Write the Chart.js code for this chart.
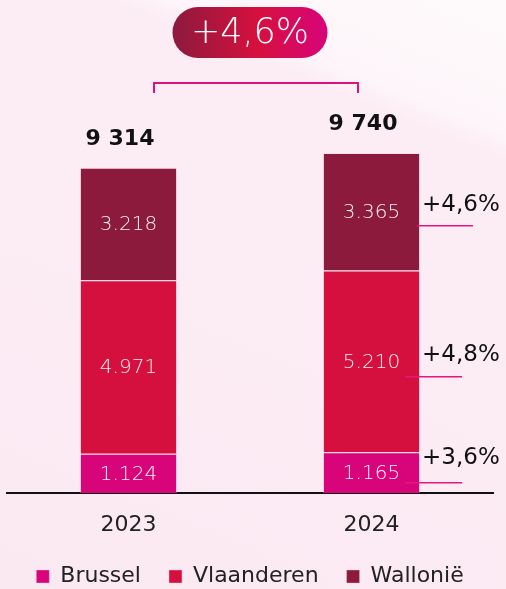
<!DOCTYPE html>
<html><head><meta charset="utf-8">
<style>
html,body{margin:0;padding:0;}
body{width:506px;height:589px;overflow:hidden;background:linear-gradient(22deg,#fbe9f2 0%,#fcecf4 50%,#fcedf5 80%,#fdf5f9 83%,#fefafc 100%);}
canvas{display:block;}
</style>
<script src="https://cdn.jsdelivr.net/npm/chart.js@4"></script>
</head><body>
<canvas id="c" width="506" height="589"></canvas>
<script>
// ---- data ----
const years = ['2023', '2024'];
const regions = ['Brussel', 'Vlaanderen', 'Wallonië'];
const brussel = [1124, 1165];
const vlaanderen = [4971, 5210];
const wallonie = [3218, 3365];
const totalLabels = ['9 314', '9 740'];
const regionChange = ['+3,6%', '+4,8%', '+4,6%'];
const totalChange = '+4,6%';

const colors = ['#d8047a', '#d6103e', '#8c1a3d'];
const FONT = '"DejaVu Sans", sans-serif';

function fmt(v){ return String(v).replace(/\B(?=(\d{3})+(?!\d))/g, '.'); }

const overlay = {
  id: 'overlay',
  afterDatasetsDraw(chart){
    const ctx = chart.ctx;
    const xs = chart.scales.x;
    ctx.save();
    // segment values
    chart.data.datasets.forEach((ds, di) => {
      const meta = chart.getDatasetMeta(di);
      meta.data.forEach((bar, i) => {
        const cy = (bar.y + bar.base) / 2;
        ctx.fillStyle = 'rgba(255,255,255,0.93)';
        ctx.font = '200 20px ' + FONT;
        ctx.textAlign = 'center';
        ctx.textBaseline = 'middle';
        ctx.fillText(fmt(ds.data[i]), bar.x, cy + 1);
      });
    });
    // totals
    const lastMeta = chart.getDatasetMeta(chart.data.datasets.length - 1);
    lastMeta.data.forEach((bar, i) => {
      ctx.fillStyle = '#111';
      ctx.font = 'bold 22px ' + FONT;
      ctx.textAlign = 'center';
      ctx.textBaseline = 'middle';
      ctx.fillText(totalLabels[i], bar.x - 8.5, bar.y - 29);
    });
    // change annotations next to the 2024 bar
    const lineOff = [10, 15.5, 14];
    const textOff = [-25, -22, -21];
    const lStart = [-15, -15, -3];
    const lEnd = [42, 42, 53];
    chart.data.datasets.forEach((ds, di) => {
      const bar = chart.getDatasetMeta(di).data[1];
      const right = bar.x + bar.width / 2;
      const mid = (bar.y + bar.base) / 2;
      const ly = mid + lineOff[di];
      ctx.strokeStyle = '#e8157e';
      ctx.lineWidth = 1.5;
      ctx.beginPath();
      ctx.moveTo(right + lStart[di], ly);
      ctx.lineTo(right + lEnd[di], ly);
      ctx.stroke();
      ctx.fillStyle = '#111';
      ctx.font = '23px ' + FONT;
      ctx.textAlign = 'left';
      ctx.textBaseline = 'middle';
      ctx.fillText(regionChange[di], right + 2, ly + textOff[di]);
    });
    // bracket
    const x0 = xs.getPixelForValue(0), x1 = xs.getPixelForValue(1);
    const bl = x0 + 25.5, br = x1 - 13.5, by = 83;
    ctx.strokeStyle = '#e0107a';
    ctx.lineWidth = 2;
    ctx.beginPath();
    ctx.moveTo(bl, by + 10); ctx.lineTo(bl, by); ctx.lineTo(br, by); ctx.lineTo(br, by + 10);
    ctx.stroke();
    // badge
    const cx = (x0 + x1) / 2;
    const bw = 155, bh = 51, bx = cx - bw / 2, byy = 7, r = bh / 2;
    const g = ctx.createLinearGradient(bx, 0, bx + bw, 0);
    g.addColorStop(0, '#8c1a3d');
    g.addColorStop(0.55, '#d6103e');
    g.addColorStop(1, '#d8047a');
    ctx.fillStyle = g;
    ctx.beginPath();
    ctx.moveTo(bx + r, byy);
    ctx.lineTo(bx + bw - r, byy);
    ctx.arc(bx + bw - r, byy + r, r, -Math.PI / 2, Math.PI / 2);
    ctx.lineTo(bx + r, byy + bh);
    ctx.arc(bx + r, byy + r, r, Math.PI / 2, Math.PI * 1.5);
    ctx.closePath();
    ctx.fill();
    ctx.fillStyle = '#fff';
    ctx.font = '200 35px ' + FONT;
    ctx.textAlign = 'center';
    ctx.textBaseline = 'middle';
    ctx.fillText(totalChange, cx, byy + bh / 2 + 1);
    ctx.restore();
  }
};

const seriesData = [brussel, vlaanderen, wallonie];
new Chart(document.getElementById('c'), {
  type: 'bar',
  data: {
    labels: years,
    datasets: regions.map((name, i) => ({
      label: name,
      data: seriesData[i],
      backgroundColor: colors[i],
      borderColor: 'rgba(255,200,222,0.4)',
      borderWidth: 1,
      barPercentage: 0.4,
      categoryPercentage: 1
    }))
  },
  options: {
    responsive: false,
    animation: false,
    devicePixelRatio: 1,
    layout: { padding: { top: 74, left: 7, right: 13, bottom: 0 } },
    scales: {
      x: {
        stacked: true,
        grid: { display: false, drawTicks: false },
        border: { display: true, color: '#111', width: 2 },
        ticks: { color: '#222', font: { family: FONT, size: 22 }, padding: 19 },
        afterFit(scale) { scale.height = 44.5; }
      },
      y: {
        stacked: true,
        display: false,
        min: 0,
        max: 12000
      }
    },
    plugins: {
      tooltip: { enabled: false },
      legend: {
        position: 'bottom',
        maxHeight: 51.5,
        labels: {
          color: '#222',
          font: { family: FONT, size: 22 },
          boxWidth: 13,
          boxHeight: 13,
          padding: 28
        }
      }
    }
  },
  plugins: [overlay]
});
</script>
</body></html>
